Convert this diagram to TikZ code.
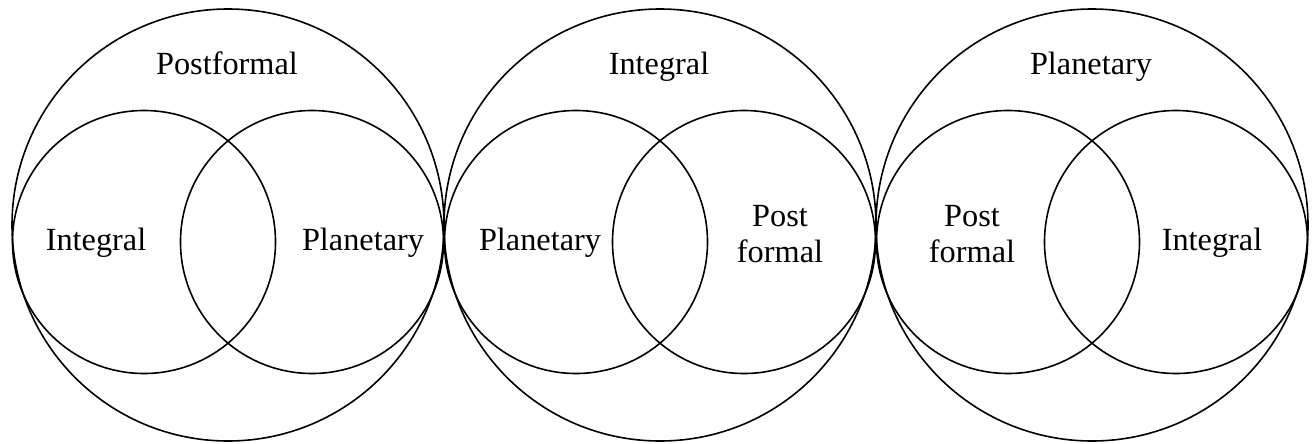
\documentclass[tikz,border=0pt]{standalone}
\usepackage{fontspec}
\setmainfont{Liberation Serif}
\begin{document}
\begin{tikzpicture}[x=1pt,y=-1pt,
  ring/.style={draw=black,line width=1.6pt},
  lbl/.style={font=\fontsize{32.3}{37}\selectfont,inner sep=0pt,anchor=base,align=center}]
\useasboundingbox (0,0) rectangle (1312,444);
% big circles with two inner circles each
\foreach \cx in {228,660,1092}{
  \draw[ring] (\cx,225) circle[radius=216pt];
  \draw[ring] (\cx-84,242) circle[radius=131.5pt];
  \draw[ring] (\cx+84,242) circle[radius=131.5pt];
}
% panel 1
\node[lbl] (t1) at (227,74.5) {Postformal};
\node[lbl] (l1) at (96,250.5) {Integral};
\node[lbl] (r1) at (363,250.5) {Planetary};
% panel 2
\node[lbl] (t2) at (659,74.5) {Integral};
\node[lbl] (l2) at (540,250.5) {Planetary};
\node[lbl] (r2a) at (780,226) {Post};
\node[lbl] (r2b) at (780,262.5) {formal};
% panel 3
\node[lbl] (t3) at (1091,74.5) {Planetary};
\node[lbl] (l3a) at (972,226) {Post};
\node[lbl] (l3b) at (972,262.5) {formal};
\node[lbl] (r3) at (1212,250.5) {Integral};
\end{tikzpicture}
\end{document}
